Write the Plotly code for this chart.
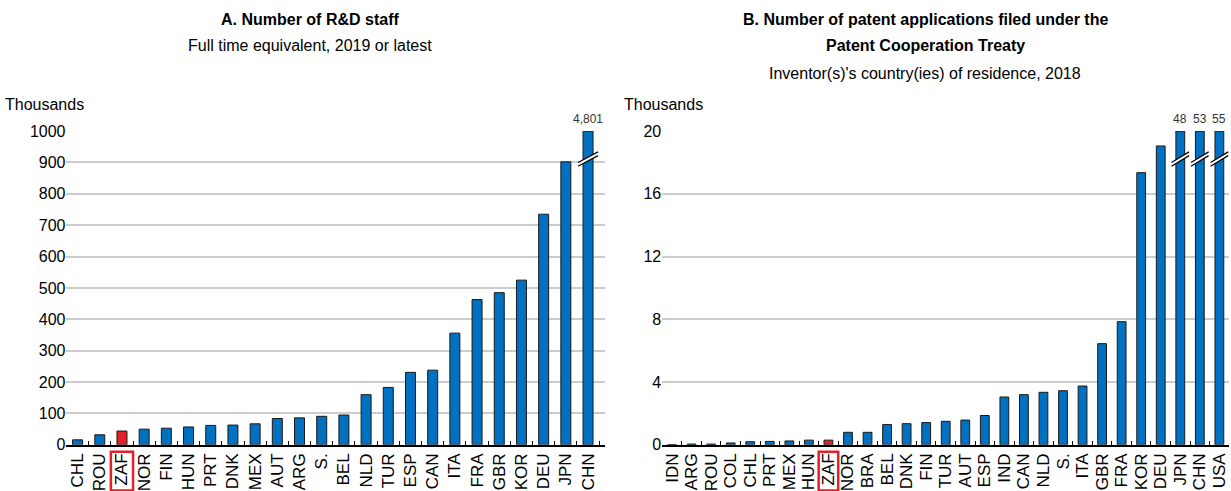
import plotly.graph_objects as go

# ---------------- data ----------------
staff_countries = ["CHL", "ROU", "ZAF", "NOR", "FIN", "HUN", "PRT", "DNK", "MEX", "AUT", "ARG", "S.",
                   "BEL", "NLD", "TUR", "ESP", "CAN", "ITA", "FRA", "GBR", "KOR", "DEU", "JPN", "CHN"]
staff_values = [16, 32, 44, 50, 53, 57, 62, 63, 67, 84, 86, 91,
                95, 160, 183, 231, 238, 356, 463, 485, 525, 735, 902, 4801]

pat_countries = ["IDN", "ARG", "ROU", "COL", "CHL", "PRT", "MEX", "HUN", "ZAF", "NOR", "BRA", "BEL",
                 "DNK", "FIN", "TUR", "AUT", "ESP", "IND", "CAN", "NLD", "S.", "ITA", "GBR", "FRA",
                 "KOR", "DEU", "JPN", "CHN", "USA"]
pat_values = [0.01, 0.05, 0.05, 0.12, 0.2, 0.22, 0.25, 0.3, 0.3, 0.8, 0.8, 1.3,
              1.35, 1.42, 1.5, 1.58, 1.87, 3.05, 3.2, 3.35, 3.45, 3.75, 6.45, 7.85,
              17.35, 19.05, 48, 53, 55]

staff_max = 1000
pat_max = 20
highlight = "ZAF"

BLUE = "#0070C0"
RED = "#E3202B"
FONT = "Liberation Sans, Arial, sans-serif"

fig = go.Figure()


def add_panel(cats, vals, ymax, xa, ya, xref, yref):
    shown = [min(v, ymax) for v in vals]
    colors = [RED if c == highlight else BLUE for c in cats]
    fig.add_trace(go.Bar(x=cats, y=shown, xaxis=xa, yaxis=ya, width=0.45,
                         marker=dict(color=colors, line=dict(color="#1a1a1a", width=1)),
                         showlegend=False, hoverinfo="skip"))
    for i, (c, v) in enumerate(zip(cats, vals)):
        if v > ymax:
            txt = f"{v:,.0f}"
            fig.add_annotation(x=c, y=ymax, xref=xref, yref=yref, text=txt, showarrow=False,
                               xanchor="center", yanchor="bottom", yshift=3,
                               font=dict(size=12, color="#333333", family=FONT))
            yb = ymax * 0.905
            d = ymax * 0.012
            g = ymax * 0.012
            fig.add_shape(type="path", xref=xref, yref=yref,
                          path=f"M {i-0.33} {yb-d} L {i+0.33} {yb+d} L {i+0.33} {yb+d+g} L {i-0.33} {yb-d+g} Z",
                          fillcolor="white", line=dict(width=0), layer="above")
            for off in (0, g):
                fig.add_shape(type="line", xref=xref, yref=yref,
                              x0=i - 0.45, y0=yb - d * 1.4 + off, x1=i + 0.45, y1=yb + d * 1.4 + off,
                              line=dict(color="black", width=1.2), layer="above")
    hi = cats.index(highlight)
    fig.add_shape(type="rect", xref=xref, yref="paper", x0=hi - 0.5, x1=hi + 0.5,
                  y0=0.001, y1=0.08, line=dict(color=RED, width=2.5), fillcolor="rgba(0,0,0,0)")


add_panel(staff_countries, staff_values, staff_max, "x", "y", "x", "y")
add_panel(pat_countries, pat_values, pat_max, "x2", "y2", "x2", "y2")

ydom = [0.094, 0.733]
common_x = dict(type="category", showline=True, linecolor="black", linewidth=1.5,
                ticks="inside", ticklen=4, tickcolor="black", tickson="boundaries",
                tickangle=-90, tickfont=dict(size=17, family=FONT, color="black"),
                showgrid=False, zeroline=False, automargin=False)
common_y = dict(showgrid=True, gridcolor="#cccccc", gridwidth=1.5, zeroline=False,
                showline=False, ticks="", automargin=False,
                tickfont=dict(size=16, family=FONT, color="black"))
fig.update_layout(
    width=1231, height=491,
    margin=dict(l=0, r=0, t=0, b=0),
    paper_bgcolor="white", plot_bgcolor="white",
    font=dict(family=FONT, color="black"),
    xaxis=dict(domain=[0.054, 0.4915], tickmode="array", tickvals=staff_countries,
               ticktext=staff_countries, **common_x),
    xaxis2=dict(domain=[0.538, 0.9985], tickmode="array", tickvals=pat_countries,
                ticktext=pat_countries, **common_x),
    yaxis=dict(domain=ydom, range=[0, staff_max], dtick=100, anchor="x", **common_y),
    yaxis2=dict(domain=ydom, range=[0, pat_max], dtick=4, anchor="x2", **common_y),
)


def paper_text(px, py, text, anchor="center"):
    fig.add_annotation(x=px / 1231, y=1 - py / 491, xref="paper", yref="paper", showarrow=False,
                       xanchor=anchor, yanchor="middle", text=text, font=dict(size=16, family=FONT))


paper_text(310, 20, "<b>A. Number of R&D staff</b>")
paper_text(310, 45, "Full time equivalent, 2019 or latest")
paper_text(925, 20, "<b>B. Number of patent applications filed under the</b>")
paper_text(925, 45, "<b>Patent Cooperation Treaty</b>")
paper_text(925, 73, "Inventor(s)'s country(ies) of residence, 2018")
paper_text(3, 105, "Thousands", "left")
paper_text(622, 105, "Thousands", "left")

fig.write_html("out.html", config={"displayModeBar": False},
               post_script="document.body.style.margin='0';document.body.style.overflow='hidden';")
